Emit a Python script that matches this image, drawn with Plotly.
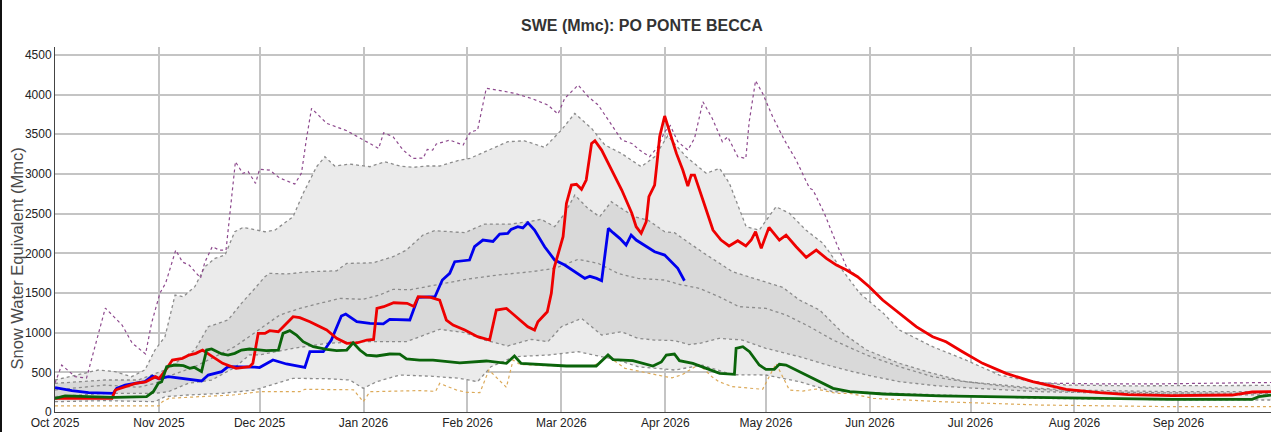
import pandas as pd
import plotly.graph_objects as go

# Season start; all series are (day of season, SWE in Mmc)
SEASON_START = pd.Timestamp("2025-10-01")
X_END_DAY = 362.6

Y_TICKS = [0, 500, 1000, 1500, 2000, 2500, 3000, 3500, 4000, 4500]

# Historical statistics
MAX_SWE = [(0, 365), (2, 592), (6, 445), (9.4, 428), (15, 1310), (20, 1096), (23, 869), (27, 731),
           (28.8, 1121), (31.3, 1499), (33, 1625), (36, 2041), (38, 1890), (40, 1852), (43.4, 1688),
           (44.7, 1890), (46.9, 2083), (49, 2041), (51, 2040), (52, 2461), (53.8, 3154), (56, 3008),
           (57.6, 3030), (59.8, 2882), (61, 3060), (64, 3049), (67, 2948), (71.5, 2873), (73.5, 3011),
           (75, 3449), (76.5, 3827), (81, 3638), (83, 3610), (87, 3545), (92, 3427), (96.5, 3322),
           (98, 3519), (100.8, 3469), (103.8, 3301), (106.8, 3196), (109.8, 3200), (111, 3310),
           (112.6, 3300), (113.7, 3377), (117.7, 3427), (121.7, 3364), (123, 3469), (124, 3532),
           (126, 3553), (128.6, 4079), (132, 4057), (137, 4016), (142, 3953), (147, 3868), (150, 3755),
           (152, 3953), (156, 4120), (159, 3973), (162, 3868), (166, 3616), (169, 3427), (172, 3385),
           (174.3, 3301), (177.3, 3217), (179.8, 3343), (181.8, 3532), (183.5, 3610), (185.7, 3406),
           (188.7, 3301), (190.7, 3449), (193.2, 3910), (196, 3700), (199, 3406), (200.6, 3469),
           (203.6, 3217), (206, 3196), (207, 3658), (208.9, 4175), (211, 4016), (214, 3721),
           (217.5, 3427), (221, 3175), (225, 2819), (226, 2800), (229.4, 2504), (233, 2126),
           (236, 1831), (239.3, 1700), (242.8, 1575), (246.8, 1405), (251.8, 1240), (256.8, 1070),
           (261.7, 945), (265.7, 880), (270.6, 755), (276.6, 610), (283.6, 488), (290, 400),
           (295, 365), (310, 355), (330, 355), (350, 365), (362.6, 372)]

P90_SWE = [(0, 403), (6, 466), (12.9, 529), (17.9, 508), (22.8, 445), (26.8, 529), (29.8, 781),
           (32.8, 949), (35.8, 1474), (38.2, 1453), (41.7, 1579), (44.7, 1831), (47.7, 1936),
           (50.7, 1978), (53.6, 2272), (56.1, 2327), (59.6, 2293), (62.6, 2272), (65.5, 2290),
           (71, 2461), (74, 2755), (78, 3091), (80.5, 3217), (83.4, 3100), (87.9, 3125), (93.9, 3091),
           (98.3, 3154), (102.8, 3100), (106.8, 3083), (110.8, 3100), (114.7, 3100), (120.7, 3175),
           (123.7, 3196), (129.1, 3301), (135, 3406), (140, 3418), (146, 3335), (151, 3553),
           (155, 3764), (160, 3574), (164, 3364), (168.9, 3259), (174.8, 3091), (178.8, 3217),
           (182.7, 3480), (188.2, 3217), (194.2, 3008), (198.2, 3070), (201.1, 2882), (206.1, 2335),
           (210, 2293), (215, 2587), (219, 2504), (223.9, 2293), (229, 2126), (234, 1831),
           (240, 1495), (247, 1244), (251.8, 1033), (261.7, 823), (271.6, 655), (281.6, 466),
           (291.5, 382), (301.5, 340), (320, 330), (362.6, 335)]

P75_SWE = [(0, 361), (14.9, 403), (24.8, 403), (32.8, 529), (41.7, 781), (45.7, 1075), (51.6, 1159),
           (55.6, 1369), (59.6, 1558), (62.6, 1705), (64, 1747), (69, 1740), (76, 1768), (84, 1780),
           (87, 1873), (90.9, 1880), (94.9, 1880), (100.8, 1957), (104.8, 2041), (109.7, 2230),
           (113.2, 2285), (118.7, 2270), (122.2, 2260), (128.1, 2369), (136, 2369), (141, 2398),
           (145, 2428), (149, 2335), (152, 2504), (155, 2734), (158.9, 2566), (162.4, 2461),
           (165.9, 2650), (168.9, 2566), (172.8, 2461), (176.8, 2419), (181.8, 2272), (184.7, 2260),
           (193.2, 2010), (202, 1768), (210, 1663), (217, 1571), (222, 1411), (228, 1285),
           (235, 991), (242, 781), (251.8, 613), (261.7, 487), (271.6, 382), (284, 330),
           (293.5, 298), (303, 277), (333, 256), (362.6, 256)]

P50_SWE = [(0, 277), (14.9, 340), (24.8, 311), (29.8, 361), (34.8, 466), (41.7, 571), (47.7, 697),
           (53.6, 823), (59.6, 1000), (63, 1100), (67, 1222), (73, 1306), (79, 1369), (84.9, 1432),
           (91.9, 1420), (96.8, 1474), (100.8, 1546), (105.8, 1540), (110.8, 1579), (116.7, 1621),
           (123, 1675), (132, 1726), (142, 1768), (149, 1810), (156, 1924), (162, 1873),
           (167.9, 1747), (173.8, 1684), (181.8, 1663), (186, 1610), (192.2, 1558), (198, 1453),
           (204, 1327), (212, 1306), (218, 1222), (225, 1075), (232, 907), (242, 718),
           (251.8, 571), (261.7, 445), (270, 390), (284, 319), (303, 256), (333, 240), (362.6, 235)]

P25_SWE = [(0, 193), (14.9, 235), (29.8, 235), (33.8, 256), (39.7, 361), (46.7, 403), (53.6, 560),
           (58, 720), (61, 720), (71, 802), (81, 865), (90.9, 886), (104.8, 886), (114.7, 1042),
           (122.2, 1000), (128.1, 907), (135, 832), (142, 916), (147, 886), (151, 1075),
           (157, 1180), (163, 970), (168.9, 1012), (173.8, 928), (178.8, 907), (184.7, 900),
           (189, 850), (192.2, 865), (198, 928), (205, 907), (212, 802), (222, 697), (232, 571),
           (242, 466), (251.8, 382), (263, 330), (274, 300), (293.5, 256), (333, 225), (362.6, 214)]

P10_SWE = [(0, 130), (14.9, 143), (29.8, 130), (32.8, 193), (39.7, 214), (49.7, 235), (59.6, 277),
           (71, 424), (81, 420), (87.9, 403), (91.9, 298), (95.9, 382), (102.8, 466), (112.7, 450),
           (120.7, 424), (126, 382), (130, 571), (137, 697), (147, 718), (156, 760), (162, 706),
           (167.9, 655), (173.8, 571), (179.8, 550), (184.7, 529), (189, 560), (193, 590),
           (202, 470), (212, 466), (222, 382), (232, 256), (240, 250), (264, 214), (293.5, 172),
           (333, 155), (362.6, 151)]

MIN_SWE = [(0, 76), (31, 76), (32, 130), (34, 172), (43, 193), (53, 214), (61, 256), (73, 256),
           (74.5, 286), (89, 280), (91.9, 130), (93.9, 256), (108.8, 270), (113.5, 260),
           (114.7, 361), (119.7, 277), (122.7, 248), (126.7, 244), (129.4, 529), (134.6, 311),
           (136.6, 655), (138.6, 600), (146, 585), (153.9, 575), (160.4, 575), (164.9, 700),
           (170, 550), (182, 445), (184, 430), (187, 470), (190, 550), (192, 600), (196, 440),
           (198, 382), (202, 319), (211, 286), (215, 610), (219, 277), (223, 264), (227, 290),
           (233, 235), (237, 235), (244, 172), (264, 130), (293.5, 88), (333, 67), (362.6, 67)]

# Individual seasons
SEASON_RED = [(0, 172), (17, 172), (18, 277), (21, 319), (24, 361), (27, 378), (30, 445), (31, 420),
              (33, 529), (35, 655), (38, 676), (40, 718), (42, 739), (44, 781), (47, 697), (50, 613),
              (54, 550), (58, 571), (59, 613), (60.6, 991), (62.6, 991), (64, 1025), (66.6, 1012),
              (68.5, 1096), (69.5, 1138), (71, 1201), (73, 1190), (76, 1138), (81, 1033), (84, 928),
              (87, 865), (90, 870), (93, 907), (95, 915), (96, 1306), (98, 1327), (101, 1377),
              (105, 1370), (107, 1330), (108.3, 1453), (112, 1445), (114.7, 1411), (116.7, 1159),
              (118.7, 1096), (122.2, 1033), (126, 949), (129.6, 907), (131.6, 1285), (134.6, 1306),
              (138, 1180), (141, 1075), (143, 1033), (144, 1138), (146.8, 1264), (148, 1495),
              (148.8, 1810), (151.5, 2209), (152.5, 2629), (154, 2860), (155.5, 2870), (157, 2806),
              (158.4, 2923), (160, 3385), (161, 3418), (163, 3301), (166, 3049), (169, 2797),
              (172, 2504), (173.3, 2335), (174.8, 2252), (176.3, 2398), (177.1, 2713), (178.8, 2860),
              (179.6, 3175), (180.3, 3469), (181.8, 3730), (183.2, 3553), (185.3, 3259),
              (187.2, 3049), (188.7, 2848), (189.7, 2986), (190.7, 2986), (193.2, 2671),
              (196.2, 2293), (198.6, 2167), (201, 2092), (203.6, 2158), (206, 2092), (207.6, 2167),
              (208.9, 2272), (210.6, 2062), (212.9, 2327), (216, 2167), (218, 2230), (221, 2083),
              (224, 1949), (227, 2041), (230, 1936), (233, 1852), (236, 1789), (239.3, 1705),
              (242.8, 1579), (246.8, 1411), (251.8, 1244), (256.8, 1075), (261.7, 949),
              (265.7, 886), (270.6, 760), (276.6, 613), (283.6, 487), (291.5, 382), (301.5, 286),
              (311.4, 244), (320, 220), (333, 206), (351, 214), (357, 252), (362.6, 256)]

SEASON_BLUE = [(0, 307), (5, 269), (10, 244), (17.4, 235), (18.4, 298), (20.9, 340), (23.8, 361),
               (26.8, 382), (29, 454), (31, 420), (33.8, 445), (37.7, 424), (43.7, 391), (45.7, 466),
               (49.7, 508), (51.6, 571), (55.6, 571), (59.6, 566), (61, 560), (65, 655), (69, 605),
               (74.5, 563), (76, 760), (80, 760), (82.4, 907), (85.4, 1210), (86.7, 1235), (90, 1138),
               (93.9, 1117), (97.9, 1110), (99.8, 1168), (105.8, 1160), (108.3, 1445), (113.3, 1453),
               (115.5, 1663), (117.7, 1747), (119.2, 1894), (123.6, 1915), (125.1, 2083),
               (127.6, 2167), (130.6, 2150), (132.6, 2243), (135, 2250), (136, 2302), (138, 2335),
               (139.5, 2320), (141, 2386), (143, 2293), (146, 2083), (149, 1915), (152, 1852),
               (155, 1768), (158, 1684), (159.5, 1710), (161.5, 1684), (163, 1654), (165, 2314),
               (166.4, 2260), (168.4, 2188), (170.3, 2104), (171.8, 2230), (173.3, 2167),
               (175.8, 2104), (178.8, 2020), (181.8, 1978), (184.2, 1873), (185.7, 1810),
               (187.7, 1654)]

SEASON_GREEN = [(0, 172), (3, 202), (10, 193), (17.9, 185), (27.3, 193), (29.3, 256), (30.8, 361),
                (31.8, 382), (33.3, 571), (35.8, 592), (38.3, 584), (40.2, 550), (41.5, 563),
                (43.7, 508), (45.2, 781), (46.7, 794), (49.7, 731), (51.6, 718), (53.6, 739),
                (55.6, 781), (58, 794), (60.6, 781), (63, 773), (66.6, 781), (68, 991), (70, 1025),
                (72, 970), (74, 886), (77, 823), (81, 790), (84, 773), (87, 781), (88.9, 873),
                (90.9, 781), (92.9, 718), (95.9, 706), (99.8, 731), (102.8, 730), (104.8, 668),
                (108.7, 655), (112.7, 655), (120.7, 620), (122.7, 626), (128.6, 643), (134.6, 613),
                (137, 706), (139, 613), (146, 596), (152.5, 580), (161.4, 580), (164.9, 718),
                (166.4, 660), (172.3, 647), (178.3, 580), (180.8, 630), (182.3, 718), (184.7, 731),
                (186.2, 647), (190.2, 613), (194.2, 550), (198.2, 487), (202.6, 475), (203.1, 802),
                (205.1, 823), (207.1, 760), (210, 592), (212, 538), (214.5, 538), (216, 601),
                (218, 592), (222, 508), (227, 403), (232, 298), (237, 256), (247, 227),
                (263.7, 202), (293.5, 185), (333, 160), (357, 160), (359, 193), (362.6, 214)]


def to_dates(series):
    return [SEASON_START + pd.Timedelta(days=d) for d, _ in series]


def to_values(series):
    return [v for _, v in series]


fig = go.Figure()

# Shaded percentile bands (10-90 light, 25-75 darker)
for upper, lower, color in [(P90_SWE, P10_SWE, "#ebebeb"), (P75_SWE, P25_SWE, "#d9d9d9")]:
    fig.add_trace(go.Scatter(
        x=to_dates(upper) + to_dates(lower)[::-1],
        y=to_values(upper) + to_values(lower)[::-1],
        fill="toself", fillcolor=color, line=dict(width=0),
        mode="lines", hoverinfo="skip", showlegend=False))

# Percentile outlines
for stat in [P90_SWE, P75_SWE, P50_SWE, P25_SWE, P10_SWE]:
    fig.add_trace(go.Scatter(
        x=to_dates(stat), y=to_values(stat), mode="lines",
        line=dict(color="#8c8c8c", width=1.3, dash="dot"), showlegend=False))

fig.add_trace(go.Scatter(x=to_dates(MAX_SWE), y=to_values(MAX_SWE), mode="lines",
                         line=dict(color="#8e4a8e", width=1.2, dash="dot"), showlegend=False))
fig.add_trace(go.Scatter(x=to_dates(MIN_SWE), y=to_values(MIN_SWE), mode="lines",
                         line=dict(color="#dcaa5a", width=1.2, dash="dot"), showlegend=False))

for series, color in [(SEASON_BLUE, "#0000ee"), (SEASON_RED, "#ee0000"), (SEASON_GREEN, "#0b640b")]:
    fig.add_trace(go.Scatter(x=to_dates(series), y=to_values(series), mode="lines",
                             line=dict(color=color, width=2.8), showlegend=False))

W, H = 1271, 432
ML, MR, MT, MB = 55, 0, 47, 20
plot_w, plot_h = W - ML - MR, H - MT - MB

fig.update_layout(
    width=W, height=H,
    margin=dict(l=ML, r=MR, t=MT, b=MB),
    plot_bgcolor="white", paper_bgcolor="white",
    font=dict(family="Liberation Sans, Arial, sans-serif", size=12, color="#222"),
    xaxis=dict(
        type="date",
        range=[SEASON_START, SEASON_START + pd.Timedelta(days=X_END_DAY)],
        tick0="2025-10-01", dtick="M1", tickformat="%b %Y",
        showgrid=True, gridcolor="#c4c4c4", gridwidth=1.5,
        showline=True, linecolor="#444", linewidth=1,
        ticks="", zeroline=False),
    yaxis=dict(
        range=[0, 4600], tickvals=Y_TICKS,
        showgrid=True, gridcolor="#c4c4c4", gridwidth=1.5,
        showline=True, linecolor="#444", linewidth=1,
        ticks="", zeroline=False),
    annotations=[
        dict(text="<b>SWE (Mmc): PO PONTE BECCA</b>", xref="paper", yref="paper",
             x=(642 - ML) / plot_w, y=(H - MB - 26) / plot_h, xanchor="center", yanchor="middle",
             showarrow=False, font=dict(size=16, color="#333")),
        dict(text="Snow Water Equivalent (Mmc)", xref="paper", yref="paper", textangle=-90,
             x=(16.5 - ML) / plot_w, y=(H - MB - 259) / plot_h, xanchor="center", yanchor="middle",
             showarrow=False, font=dict(size=16.5, color="#4a4a4a")),
    ],
    shapes=[
        dict(type="line", xref="paper", yref="paper",
             x0=(1 - ML) / plot_w, x1=(1 - ML) / plot_w,
             y0=-MB / plot_h, y1=(H - MB) / plot_h,
             line=dict(color="#111", width=2)),
    ],
)

fig.write_html("out.html")
